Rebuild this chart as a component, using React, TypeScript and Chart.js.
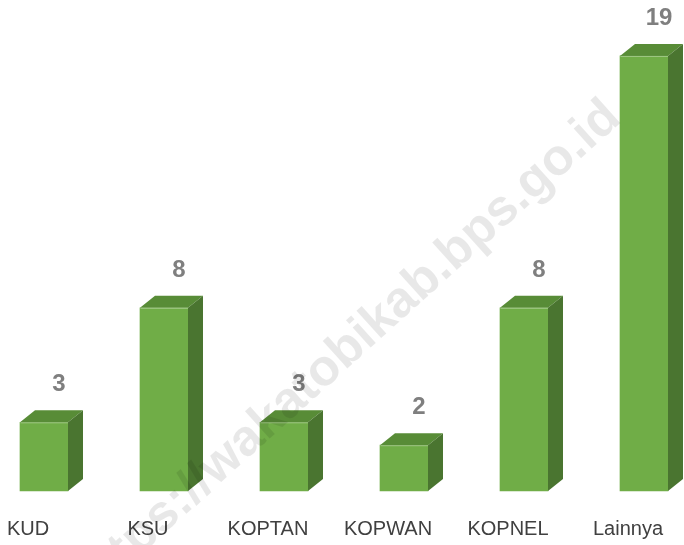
import React, { useEffect, useRef } from "react";
import { Chart, registerables } from "chart.js";

Chart.register(...registerables);

const categories = ["KUD", "KSU", "KOPTAN", "KOPWAN", "KOPNEL", "Lainnya"];
const values = [3, 8, 3, 2, 8, 19];
const watermarkText = "https://wakatobikab.bps.go.id";

const FRONT = "#70AD47";
const TOP = "#588C37";
const SIDE = "#4A7530";
const DEPTH_X = 15;
const DEPTH_Y = 12;

const bar3d = {
  id: "bar3d",
  afterDatasetsDraw(chart: any) {
    const ctx = chart.ctx;
    const meta = chart.getDatasetMeta(0);
    const data = chart.data.datasets[0].data;
    ctx.save();
    meta.data.forEach((el: any, i: number) => {
      const { x, y, base, width } = el.getProps(["x", "y", "base", "width"], true);
      const l = x - width / 2;
      const r = x + width / 2;
      // top face
      ctx.fillStyle = TOP;
      ctx.beginPath();
      ctx.moveTo(l, y);
      ctx.lineTo(l + DEPTH_X, y - DEPTH_Y);
      ctx.lineTo(r + DEPTH_X, y - DEPTH_Y);
      ctx.lineTo(r, y);
      ctx.closePath();
      ctx.fill();
      // side face
      ctx.fillStyle = SIDE;
      ctx.beginPath();
      ctx.moveTo(r, y);
      ctx.lineTo(r + DEPTH_X, y - DEPTH_Y);
      ctx.lineTo(r + DEPTH_X, base - DEPTH_Y);
      ctx.lineTo(r, base);
      ctx.closePath();
      ctx.fill();
      // highlight edge
      ctx.strokeStyle = "rgba(255,255,255,0.35)";
      ctx.lineWidth = 1;
      ctx.beginPath();
      ctx.moveTo(l + 0.5, y + 0.5);
      ctx.lineTo(r, y + 0.5);
      ctx.stroke();
      // value label
      ctx.fillStyle = "#7F7F7F";
      ctx.font = 'bold 24px "Liberation Sans", Arial, sans-serif';
      ctx.textAlign = "center";
      ctx.textBaseline = "middle";
      ctx.fillText(String(data[i]), x + DEPTH_X, y - 37.5);
    });
    ctx.restore();
  },
};

const watermark = {
  id: "watermark",
  afterDraw(chart: any) {
    const ctx = chart.ctx;
    ctx.save();
    ctx.translate(347, 350);
    ctx.rotate((-42 * Math.PI) / 180);
    ctx.fillStyle = "rgba(0,0,0,0.09)";
    ctx.font = 'bold 51px "Liberation Sans", Arial, sans-serif';
    ctx.textAlign = "center";
    ctx.textBaseline = "middle";
    ctx.fillText(watermarkText, 0, 0);
    ctx.restore();
  },
};

export default function App() {
  const ref = useRef<HTMLCanvasElement>(null);
  useEffect(() => {
    if (!ref.current) return;
    const chart = new Chart(ref.current, {
      type: "bar",
      data: {
        labels: categories,
        datasets: [
          {
            data: values,
            backgroundColor: FRONT,
            barThickness: 48,
            clip: false as any,
          },
        ],
      },
      options: {
        animation: false,
        responsive: false,
        layout: { padding: { top: 33, left: 44, right: 40, bottom: 0 } },
        plugins: { legend: { display: false }, tooltip: { enabled: false } },
        scales: {
          x: {
            type: "category",
            offset: false,
            grid: { display: false, drawTicks: false },
            border: { display: false },
            ticks: {
              autoSkip: false,
              maxRotation: 0,
              padding: 26,
              labelOffset: -16,
              color: "#404040",
              font: { size: 20, family: '"Liberation Sans", Arial, sans-serif' },
            },
            afterFit: (scale: any) => {
              scale.height = 54;
              scale.paddingLeft = 0;
              scale.paddingRight = 0;
            },
          },
          y: { display: false, min: 0, max: 20 },
        },
      },
      plugins: [bar3d, watermark],
    });
    return () => chart.destroy();
  }, []);
  return (
    <div style={{ position: "fixed", left: 0, top: 0, width: 684, height: 545, background: "#fff" }}>
      <canvas ref={ref} width={684} height={545} style={{ display: "block" }} />
    </div>
  );
}
